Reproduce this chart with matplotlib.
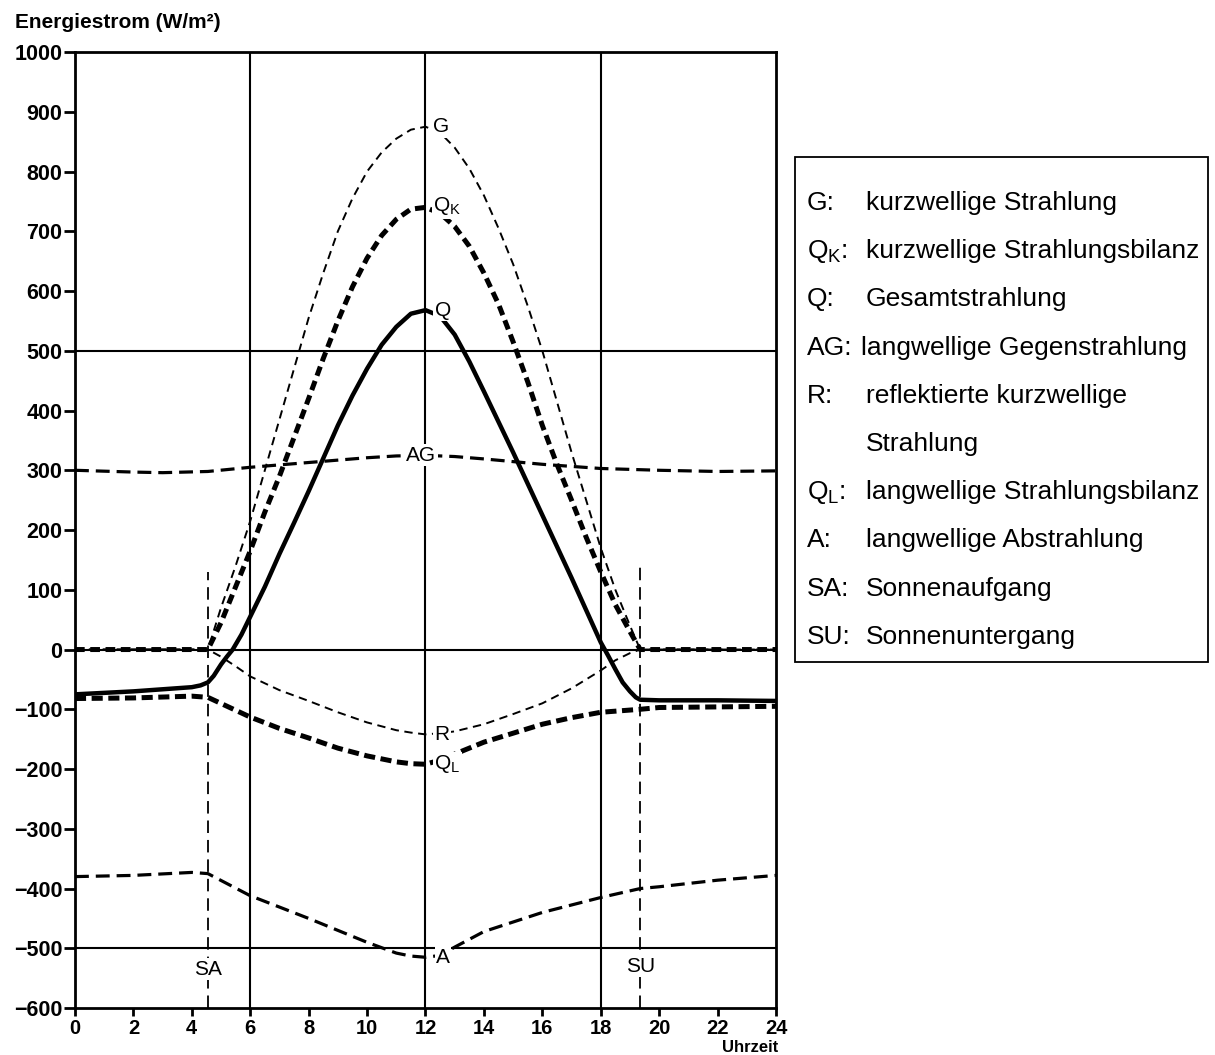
import numpy as np
import matplotlib.pyplot as plt
from matplotlib.patches import Rectangle

plt.rcParams["lines.scale_dashes"] = False
plt.rcParams["mathtext.fontset"] = "custom"
plt.rcParams["mathtext.rm"] = "Liberation Sans"
plt.rcParams["mathtext.it"] = "Liberation Sans:italic"

SA = 4.55
SU = 19.35

# kurzwellige Strahlung
g_t = [0, 4.55, 5, 5.5, 6, 6.5, 7, 7.5, 8, 8.5, 9, 9.5, 10, 10.5, 11, 11.5, 12,
       12.5, 13, 13.5, 14, 14.5, 15, 15.5, 16, 16.5, 17, 17.5, 18, 18.5, 19, 19.35, 24]
g_v = [0, 0, 70, 140, 215, 300, 385, 470, 555, 630, 700, 755, 800, 832, 855, 870, 875,
       865, 840, 805, 760, 705, 645, 575, 500, 415, 330, 250, 170, 100, 40, 0, 0]

# kurzwellige Strahlungsbilanz
qk_t = [0, 4.55, 5, 5.5, 6, 6.5, 7, 7.5, 8, 8.5, 9, 9.5, 10, 10.5, 11, 11.5, 12,
        12.5, 13, 13.5, 14, 14.5, 15, 15.5, 16, 16.5, 17, 17.5, 18, 18.5, 19, 19.35, 24]
qk_v = [0, 0, 45, 105, 165, 230, 290, 355, 420, 487, 550, 607, 655, 693, 720, 737, 740,
        730, 708, 675, 630, 578, 515, 448, 375, 310, 250, 188, 130, 75, 30, 0, 0]

# Gesamtstrahlung
q_t = [0, 2, 4, 4.3, 4.55, 4.75, 5, 5.2, 5.4, 5.7, 6, 6.5, 7, 7.5, 8, 8.5, 9, 9.5, 10, 10.5,
       11, 11.5, 12, 12.5, 13, 13.5, 14, 15, 16, 17, 18, 18.25, 18.5, 18.75, 19, 19.2, 19.35,
       20, 22, 24]
q_v = [-75, -70, -63, -60, -55, -44, -25, -12, 0, 25, 55, 105, 160, 212, 265, 320, 375, 425,
       470, 510, 540, 562, 568, 558, 527, 482, 432, 330, 225, 120, 12, -10, -33, -55, -70, -80,
       -84, -85, -85, -86]

# langwellige Gegenstrahlung
ag_t = [0, 2, 3, 4.55, 6, 8, 10, 11, 12, 13, 14, 16, 18, 20, 22, 24]
ag_v = [300, 297, 296, 298, 305, 313, 321, 324, 325, 323, 319, 310, 303, 300, 298, 299]

# reflektierte kurzwellige Strahlung
r_t = [0, 4.55, 5, 5.5, 6, 7, 8, 9, 10, 11, 11.5, 12, 12.5, 13, 14, 15, 16, 17, 18, 18.5,
       19, 19.35, 24]
r_v = [0, 0, -12, -28, -45, -68, -86, -105, -122, -135, -139, -142, -140, -137, -125, -108,
       -90, -65, -35, -18, -6, 0, 0]

# langwellige Strahlungsbilanz
ql_t = [0, 2, 4, 4.55, 6, 7, 8, 9, 10, 11, 11.5, 12, 12.5, 13, 14, 15, 16, 17, 18, 19.35,
        20, 22, 24]
ql_v = [-82, -81, -78, -80, -113, -132, -148, -165, -178, -188, -191, -192, -185, -175, -155,
        -140, -125, -114, -105, -100, -97, -96, -95]

# langwellige Abstrahlung
a_t = [0, 2, 4, 4.55, 6, 8, 10, 11, 11.5, 12, 12.5, 13, 14, 16, 18, 19.35, 20, 22, 24]
a_v = [-380, -378, -373, -375, -412, -450, -490, -508, -513, -515, -512, -498, -472, -440,
       -415, -400, -397, -386, -378]

legend_keys = ["G:", "Q$_\\mathrm{K}$:", "Q:", "AG:", "R:", "", "Q$_\\mathrm{L}$:", "A:",
               "SA:", "SU:"]
legend_texts = [
    "kurzwellige Strahlung",
    "kurzwellige Strahlungsbilanz",
    "Gesamtstrahlung",
    "langwellige Gegenstrahlung",
    "reflektierte kurzwellige",
    "Strahlung",
    "langwellige Strahlungsbilanz",
    "langwellige Abstrahlung",
    "Sonnenaufgang",
    "Sonnenuntergang",
]

fig = plt.figure(figsize=(12.15, 10.55), dpi=100)
ax = fig.add_axes([0.0617, 0.0445, 0.577, 0.9062])

# grid
for xv in (6, 12, 18):
    ax.axvline(xv, color="black", lw=1.5, zorder=1)
for yv in (500, 0, -500):
    ax.axhline(yv, color="black", lw=1.5, zorder=1)

# SA / SU markers
ax.plot([SA, SA], [-600, 130], color="black", lw=1.3, dashes=(9, 5), zorder=2)
ax.plot([SU, SU], [-600, 145], color="black", lw=1.3, dashes=(9, 5), zorder=2)

ax.plot(g_t, g_v, color="black", lw=1.4, dashes=(6, 4), zorder=3)
ax.plot(qk_t, qk_v, color="black", lw=3.6, dashes=(7, 4), zorder=3)
ax.plot(q_t, q_v, color="black", lw=3.2, zorder=4)
ax.plot(ag_t, ag_v, color="black", lw=2.3, dashes=(10, 5), zorder=3)
ax.plot(r_t, r_v, color="black", lw=1.4, dashes=(6, 4), zorder=3)
ax.plot(ql_t, ql_v, color="black", lw=3.6, dashes=(8, 4), zorder=3)
ax.plot(a_t, a_v, color="black", lw=2.3, dashes=(10, 5), zorder=3)

lab = dict(fontsize=15, family="Liberation Sans", ha="center", va="center", zorder=5,
           bbox=dict(facecolor="white", edgecolor="none", pad=1.0))
ax.text(12.55, 875, "G", **lab)
ax.text(12.75, 742, "Q$_\\mathrm{K}$", **lab)
ax.text(12.6, 568, "Q", **lab)
ax.text(11.85, 325, "AG", **lab)
ax.text(12.55, -142, "R", **lab)
ax.text(12.75, -192, "Q$_\\mathrm{L}$", **lab)
ax.text(12.6, -515, "A", **lab)

ax.text(SA, -535, "SA", **lab)
ax.text(SU, -530, "SU", **lab)

ax.set_xlim(0, 24)
ax.set_ylim(-600, 1000)
ax.set_xticks(np.arange(0, 25, 2))
ax.set_yticks(np.arange(-600, 1001, 100))
ax.set_yticklabels([str(v).replace("-", "\u2212") for v in range(-600, 1001, 100)])
ax.tick_params(direction="out", length=8, width=2, labelsize=15.5)
ax.tick_params(axis="y", pad=1)
ax.tick_params(axis="x", length=6, pad=2, labelsize=14.5)
for lbl in ax.get_xticklabels() + ax.get_yticklabels():
    lbl.set_family(["Liberation Sans Narrow", "Liberation Sans"])
    lbl.set_fontweight("bold")
for s in ax.spines.values():
    s.set_linewidth(2)

fig.text(15 / 1215, 1 - 22 / 1055, "Energiestrom (W/m²)", fontsize=15, fontweight="bold",
         family=["Liberation Sans Narrow", "Liberation Sans"], ha="left", va="center")
fig.text(778 / 1215, 1 - 1047 / 1055, "Uhrzeit", fontsize=12, fontweight="bold",
         family=["Liberation Sans Narrow", "Liberation Sans"], ha="right", va="center")

# legend box
fig.patches.append(Rectangle((795 / 1215, 1 - 662 / 1055), 413 / 1215, 505 / 1055,
                             transform=fig.transFigure, fill=False, edgecolor="black", lw=1.3))
y0 = 203
for i, (k, t) in enumerate(zip(legend_keys, legend_texts)):
    yy = 1 - (y0 + i * 48.2) / 1055
    fig.text(807 / 1215, yy, k, fontsize=19, family="Liberation Sans", ha="left", va="center")
    tx = 861 if k == "AG:" else 866
    fig.text(tx / 1215, yy, t, fontsize=19, family="Liberation Sans", ha="left", va="center")

fig.savefig("out.png", dpi=100)
